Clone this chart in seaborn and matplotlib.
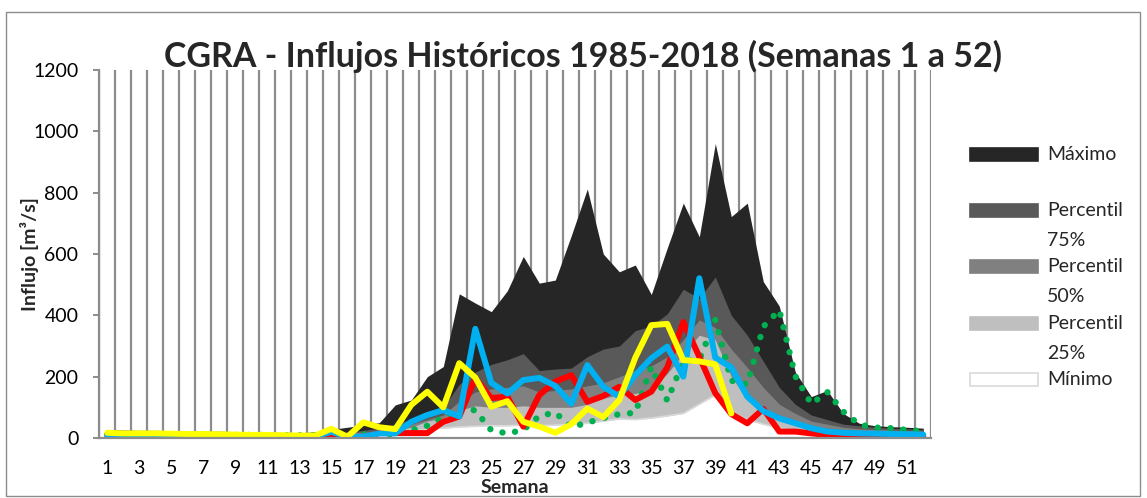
import numpy as np
import pandas as pd
import matplotlib
matplotlib.use("Agg")
import matplotlib.pyplot as plt
import seaborn as sns
from matplotlib.patches import Rectangle

# ---------------- data ----------------
semanas = list(range(1, 53))

maximo = [28, 26, 25, 25, 24, 23, 22, 22, 21, 20, 19, 18, 17, 20, 28, 35, 42, 50, 108, 124,
          200, 233, 470, 440, 412, 480, 592, 505, 515, 660, 812, 600, 542, 564, 468, 620, 766, 656, 960, 722,
          766, 510, 430, 215, 135, 155, 80, 48, 40, 37, 35, 32]
p75 = [15, 15, 14, 14, 14, 13, 13, 13, 12, 12, 12, 12, 12, 14, 17, 20, 25, 32, 45, 62,
       85, 100, 175, 215, 240, 255, 275, 220, 225, 228, 265, 290, 300, 350, 365, 405, 485, 455, 525, 400,
       335, 250, 165, 110, 75, 60, 45, 40, 35, 32, 30, 27]
p50 = [12, 12, 12, 12, 11, 11, 11, 11, 10, 10, 10, 10, 10, 12, 14, 16, 20, 25, 35, 45,
       60, 75, 120, 150, 160, 165, 170, 150, 155, 160, 170, 180, 200, 220, 235, 265, 320, 385, 360, 290,
       230, 165, 110, 80, 55, 45, 35, 30, 28, 26, 24, 22]
p25 = [10, 10, 10, 10, 9, 9, 9, 9, 8, 8, 8, 8, 8, 10, 11, 12, 14, 18, 25, 35,
       55, 65, 90, 105, 100, 100, 105, 100, 100, 100, 110, 130, 140, 145, 160, 210, 275, 335, 320, 200,
       125, 85, 62, 45, 35, 28, 24, 22, 20, 18, 17, 16]
minimo = [6, 6, 6, 6, 5, 5, 5, 5, 5, 5, 5, 5, 5, 6, 8, 10, 12, 15, 18, 22,
          28, 32, 36, 38, 40, 40, 42, 40, 42, 45, 48, 55, 62, 60, 65, 72, 80, 110, 140, 85,
          60, 45, 32, 25, 20, 17, 15, 14, 13, 13, 12, 12]

rojo = [3, 3, 3, 3, 3, 3, 3, 3, 3, 3, 3, 3, 3, 3, 3, 3, 5, 16, 16, 16,
        16, 53, 70, 195, 130, 135, 37, 140, 184, 205, 118, 137, 167, 124, 151, 230, 378, 265, 146, 78,
        48, 95, 21, 21, 15, 10, 8, 7, 6, 6, 5, 5]
azul = [6, 6, 6, 6, 6, 6, 6, 6, 6, 6, 6, 6, 6, 6, 20, 4, 5, 15, 15, 53,
        75, 91, 70, 356, 180, 145, 189, 196, 170, 112, 238, 167, 135, 205, 260, 298, 200, 521, 262, 230,
        135, 88, 64, 48, 32, 21, 17, 15, 14, 13, 12, 11]
amarillo = [17, 15, 15, 15, 14, 13, 13, 12, 11, 10, 10, 9, 8, 8, 30, 4, 51, 35, 29, 108,
            151, 100, 244, 197, 102, 120, 53, 37, 17, 45, 96, 68, 124, 262, 368, 372, 254, 250, 240, 80,
            np.nan, np.nan, np.nan, np.nan, np.nan, np.nan, np.nan, np.nan, np.nan, np.nan, np.nan, np.nan]
verde = [12, 12, 12, 12, 11, 11, 11, 10, 10, 10, 10, 9, 9, 9, 9, 9, 12, 15, 10, 25,
         40, 67, 97, 90, 25, 15, 26, 72, 83, 35, 50, 65, 78, 82, 232, 122, 250, 255, 385, 187,
         175, 363, 417, 202, 111, 150, 86, 44, 34, 32, 26, 22]

y_ticks = [0, 200, 400, 600, 800, 1000, 1200]
x_tick_labels = [str(w) for w in range(1, 53, 2)]

titulo = "CGRA - Influjos Históricos 1985-2018 (Semanas 1 a 52)"
leyenda = [("Máximo", "", "#262626"), ("Percentil", "75%", "#595959"),
           ("Percentil", "50%", "#808080"), ("Percentil", "25%", "#bfbfbf"),
           ("Mínimo", "", "#ffffff")]

# ---------------- style ----------------
sns.set_theme(style="white")
plt.rcParams['font.family'] = ['Lato', 'DejaVu Sans']
grid_col = "#8c8c8c"

fig = plt.figure(figsize=(11.47, 4.98), dpi=100)
W, H = 1147, 498
ax = fig.add_axes([99.3 / W, 1 - 438 / H, 832 / W, 368 / H])

# overlapping areas
areas = [(maximo, "#262626"), (p75, "#595959"), (p50, "#808080"), (p25, "#bfbfbf"), (minimo, "#ffffff")]
for i, (vals, col) in enumerate(areas):
    ax.fill_between(semanas, 0, vals, color=col, lw=0, zorder=2 + i * 0.01)
ax.plot(semanas, minimo, color="#d9d9d9", lw=1.2, zorder=2.1)

lineas = pd.DataFrame({"Semana": semanas, "rojo": rojo, "azul": azul,
                       "amarillo": amarillo, "verde": verde})
sns.lineplot(data=lineas, x="Semana", y="verde", ax=ax, color="#00b050", lw=4.6,
             linestyle=(0, (0.01, 2.0)), dash_capstyle="round", errorbar=None, zorder=3)
sns.lineplot(data=lineas, x="Semana", y="rojo", ax=ax, color="#ff0000", lw=4.3,
             solid_capstyle="round", solid_joinstyle="round", errorbar=None, zorder=4)
sns.lineplot(data=lineas, x="Semana", y="azul", ax=ax, color="#00b0f0", lw=4.3,
             solid_capstyle="round", solid_joinstyle="round", errorbar=None, zorder=5)
sns.lineplot(data=lineas, x="Semana", y="amarillo", ax=ax, color="#ffff00", lw=4.3,
             solid_capstyle="round", solid_joinstyle="round", errorbar=None, zorder=6)

ax.set_xlim(0.5, 52.5)
ax.set_ylim(0, 1200)
ax.set_xlabel("")
ax.set_ylabel("")

# axes & grid
for s in ["top", "right"]:
    ax.spines[s].set_visible(False)
for s in ["left", "bottom"]:
    ax.spines[s].set_color(grid_col)
    ax.spines[s].set_linewidth(1.6)
    ax.spines[s].set_zorder(7)

ax.set_xticks(list(range(1, 53, 2)))
ax.set_xticklabels(x_tick_labels)
ax.set_xticks([k + 0.5 for k in range(0, 53)], minor=True)
ax.tick_params(axis="x", which="major", length=0, pad=16, labelsize=14, colors="black")
ax.tick_params(axis="x", which="minor", length=4, width=1.4, color=grid_col, direction="out")
ax.set_yticks(y_ticks)
ax.tick_params(axis="y", which="major", length=4, width=1.4, color=grid_col, pad=11,
               labelsize=14, labelcolor="black", left=True)
ax.grid(False)
ax.grid(which="minor", axis="x", color=grid_col, lw=1.6)
ax.set_axisbelow(True)

# texts
fig.text(583 / W, 1 - 67 / H, titulo, ha="center", va="baseline", fontsize=24.5, fontweight="bold")
fig.text(30 / W, 1 - 254 / H, "Influjo [m³/s]", ha="center", va="center", rotation=90,
         fontsize=14, fontweight="bold")
fig.text(515 / W, 1 - 487 / H, "Semana", ha="center", va="center", fontsize=14, fontweight="bold")

# legend (drawn manually, Excel-like layout)
ys = [148, 204, 260, 317, 373]
for (l1, l2, col), y in zip(leyenda, ys):
    edge = "#d9d9d9" if col == "#ffffff" else col
    fig.patches.append(Rectangle((970 / W, 1 - (y + 13) / H), 68 / W, 13 / H,
                                 transform=fig.transFigure, facecolor=col, edgecolor=edge, lw=1.2))
    fig.text(1047 / W, 1 - (y + 6.5) / H, l1, ha="left", va="center", fontsize=14)
    if l2:
        fig.text(1047 / W, 1 - (y + 36) / H, l2, ha="left", va="center", fontsize=14)

# chart border
fig.patches.append(Rectangle((6 / W, 2 / H), 1134 / W, 484 / H, transform=fig.transFigure,
                             fill=False, edgecolor="#8c8c8c", lw=1))

fig.savefig("out.png", dpi=100)
